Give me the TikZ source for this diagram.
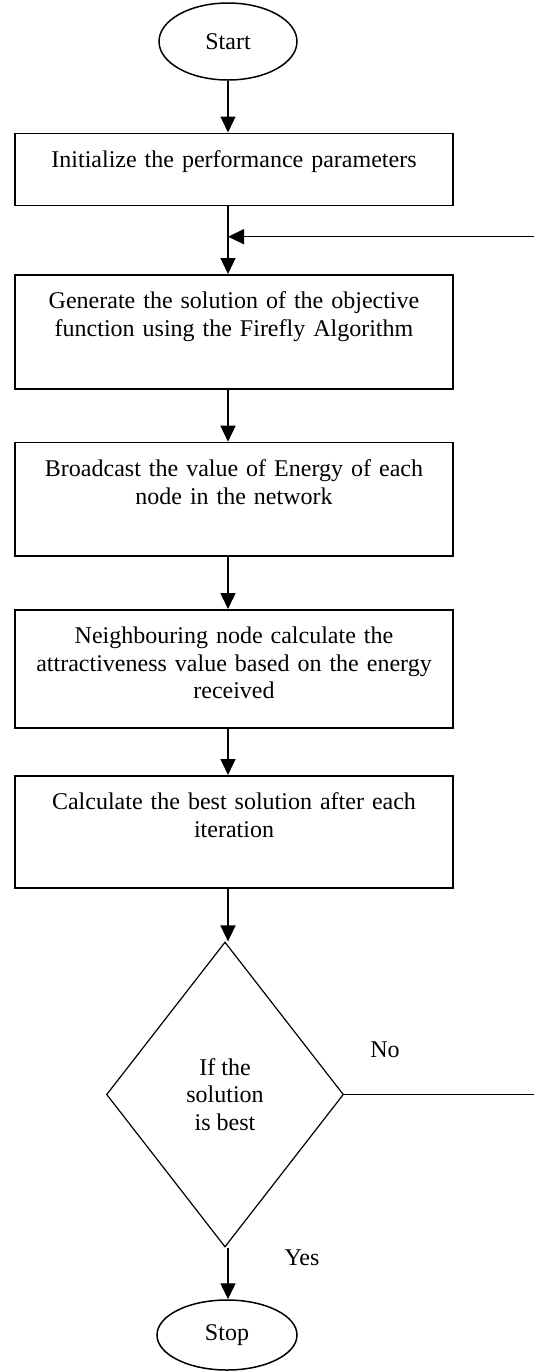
\documentclass[tikz,border=0pt]{standalone}
\usepackage{fontspec}
\setmainfont{Liberation Serif}
\usetikzlibrary{shapes.geometric,arrows.meta}

\tikzset{
  terminal/.style={draw, ellipse, line width=0.75pt, inner sep=0pt, minimum width=69pt, minimum height=38.5pt},
  stepbox/.style={draw, rectangle, line width=0.75pt, anchor=north, text width=219pt, align=center,
    inner xsep=0pt, inner ysep=0pt, text height=17pt},
  decision/.style={draw, diamond, line width=0.6pt, inner sep=0pt, minimum width=118.5pt,
    minimum height=152.5pt, align=center},
  arr/.style={line width=0.7pt, -{Triangle[length=8pt,width=7.5pt]}},
}

\begin{document}
\begin{tikzpicture}[x=0.5pt, y=-0.5pt, font=\fontsize{12}{13.8}\selectfont]
        \useasboundingbox (0,0) rectangle (534,1372);

        % start and stop
        \node[terminal] (start) at (228,41.5) {Start};
        \node[terminal, minimum width=70pt, minimum height=35pt] (stop) at (227,1335) {Stop};

        % steps
        \node[stepbox, text depth=19pt] (init) at (234,132.5) {Initialize the performance parameters};
        \node[stepbox, text depth=40pt] (gen) at (234,274) {Generate the solution of the objective\\function using the Firefly Algorithm};
        \node[stepbox, text depth=39.7pt] (bcast) at (234,441.7) {Broadcast the value of Energy of each\\node in the network};
        \node[stepbox, text depth=42pt] (nbr) at (234,609) {Neighbouring node calculate the\\attractiveness value based on the energy\\received};
        \node[stepbox, text depth=39pt] (best) at (234,775) {Calculate the best solution after each\\iteration};

        % test
        \node[decision] (check) at (225,1094.5) {If the\\solution\\is best};
        \node (no) at (385,1050) {No};
        \node (yes) at (302,1258) {Yes};

        \coordinate (back) at (536,236.7);

        \draw[arr] (start) -- (start |- init.north);
        \draw[arr] (init.south -| start) -- (start |- gen.north);
        \draw[arr] (gen.south -| start) -- (start |- bcast.north);
        \draw[arr] (bcast.south -| start) -- (start |- nbr.north);
        \draw[arr] (nbr.south -| start) -- (start |- best.north);
        \draw[arr] (best.south -| start) -- (start |- check.north);
        \draw[arr] (start |- check.south) -- (start |- stop.north);
        \draw[arr] (check.east) -| (back) -- (start |- back);
\end{tikzpicture}
\end{document}
